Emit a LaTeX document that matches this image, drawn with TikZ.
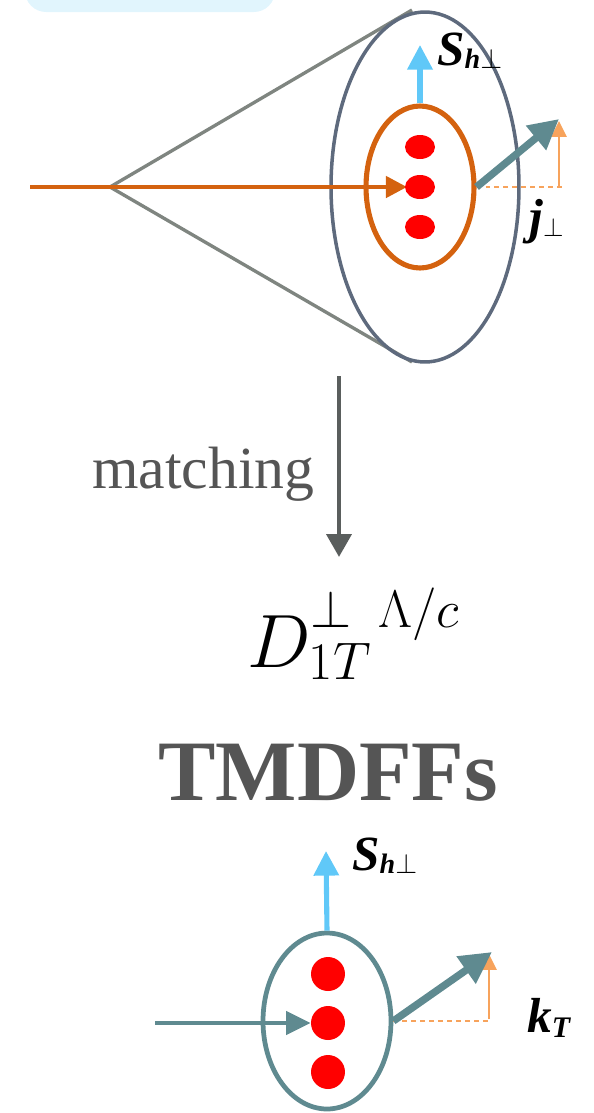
\RequirePackage{fix-cm}
\documentclass[tikz,border=0pt]{standalone}
\usepackage{fontspec}
\newfontfamily\lsf{Liberation Serif}
\usepackage{tikz}
\usetikzlibrary{arrows.meta,positioning,shapes.geometric}

\definecolor{boxBlue}{RGB}{225,245,253}
\definecolor{coneGray}{RGB}{127,133,128}
\definecolor{rimGray}{RGB}{94,106,125}
\definecolor{quarkOrange}{RGB}{212,98,15}
\definecolor{dotRed}{RGB}{255,0,0}
\definecolor{spinBlue}{RGB}{96,200,248}
\definecolor{jetTeal}{RGB}{95,138,144}
\definecolor{lightOrange}{RGB}{247,163,92}
\definecolor{textGray}{RGB}{85,85,85}
\definecolor{arrowGray}{RGB}{90,94,93}

% subscript at a fixed size, for the big labels
\newcommand{\vecsub}[3][16]{#2\raisebox{-2pt}{\fontsize{#1}{#1}\selectfont #3}}

\begin{document}
\begin{tikzpicture}[x=0.02cm, y=-0.02cm,
  rim/.style={draw=rimGray, line width=2pt, ellipse, inner sep=0,
    minimum width=3.76cm, minimum height=7cm},
  hadron/.style={draw=quarkOrange, line width=2.9pt, ellipse, inner sep=0,
    minimum width=2.16cm, minimum height=3.24cm},
  proton/.style={draw=jetTeal, line width=2.7pt, ellipse, inner sep=0,
    minimum width=2.56cm, minimum height=3.52cm},
  quark/.style={fill=dotRed, ellipse, inner sep=0,
    minimum width=0.6cm, minimum height=0.48cm},
  bigquark/.style={fill=dotRed, circle, inner sep=0, minimum size=0.68cm},
  coneline/.style={color=coneGray, line width=1.9pt},
  quarkline/.style={color=quarkOrange, line width=2.5pt,
    -{Triangle[length=12pt,width=12pt]}},
  beam/.style={color=jetTeal, line width=2.8pt,
    -{Triangle[length=14pt,width=13pt]}},
  spin/.style={color=spinBlue, line width=2.9pt,
    -{Triangle[length=14pt,width=14pt]}},
  jet/.style={color=jetTeal, line width=4.2pt,
    -{Triangle[length=17pt,width=17pt]}},
  bigjet/.style={color=jetTeal, line width=4.2pt,
    -{Triangle[length=18pt,width=18pt]}},
  kick/.style={color=lightOrange, line width=1.5pt,
    -{Triangle[length=9pt,width=8.5pt]}},
  projline/.style={color=lightOrange, line width=1.5pt,
    dash pattern=on 2.8pt off 2.3pt},
  match/.style={color=arrowGray, line width=2.6pt,
    -{Triangle[length=13pt,width=14pt]}},
  lbl/.style={inner sep=0, anchor=base west,
    font=\lsf\bfseries\itshape\fontsize{28}{30}\selectfont}]

  \useasboundingbox (0,0) rectangle (594,1113);
  \clip (0,0) rectangle (594,1113);

  \fill[boxBlue, rounded corners=12pt] (25,-40) rectangle (275,12);

  % jet cone
  \coordinate (src) at (30,187);
  \coordinate (apex) at (110,187);
  \coordinate (coneTop) at (412,10);
  \coordinate (coneBot) at (412,362);
  \draw[coneline] (coneTop) -- (apex) -- (coneBot);
  \node[rim] (cone) at (425,187) {};
  \draw[quarkline] (src) -- (407,187) coordinate (qin);
  \node[hadron] (had) at (420,187) {};
  \foreach \y/\n in {147/1,187/2,227/3}
    \node[quark] (q\n) at (420,\y) {};

  \coordinate (spinTip) at (420,45);
  \draw[spin] (had.north) -- (spinTip);
  \node[lbl] (slab) at (437,65) {\vecsub{S}{h$\perp$}};

  \coordinate (jetEnd) at (559,119);
  \coordinate (jFoot) at (563,187);
  \coordinate (jBase) at (559,186);
  \coordinate (jTop) at (559,121);
  \draw[projline] (had.east) -- (jFoot);
  \draw[kick] (jBase) -- (jTop);
  \draw[jet] (had.east) -- (jetEnd);
  \node[lbl] (jlab) at (529,233) {\vecsub[15]{j}{$\perp$}};

  % matching step
  \coordinate (mStart) at (339,376);
  \coordinate (mEnd) at (339,557);
  \draw[match] (mStart) -- (mEnd);
  \node[inner sep=0, anchor=base east, text=textGray,
    font=\lsf\fontsize{34}{40}\selectfont] (mtxt) at (315,488) {matching};

  \node[inner sep=0, anchor=base west] (dlab) at (247,667)
    {\fontsize{43}{50}\selectfont $D_{1T}^{\perp\mkern9mu\Lambda/c}$};
  \node[inner sep=0, anchor=base west, text=textGray,
    font=\lsf\bfseries\fontsize{49}{55}\selectfont] (title) at (158,800) {TMDFFs};

  % TMD fragmentation
  \node[proton] (pro) at (327,1021) {};
  \foreach \y/\n in {974/1,1023/2,1072/3}
    \node[bigquark] (p\n) at (328,\y) {};
  \coordinate (inSrc) at (155,1023);
  \draw[beam] (inSrc) -- (p2.west);

  \coordinate (spinTip2) at (326,851);
  \draw[spin] (pro.north) -- (spinTip2);
  \node[lbl] (slab2) at (352,870) {\vecsub{S}{h$\perp$}};

  \coordinate (kEnd) at (492,952);
  \coordinate (kFoot) at (490,1021);
  \coordinate (kBase) at (489,1019);
  \coordinate (kTop) at (489,954);
  \draw[projline] (pro.east) -- (kFoot);
  \draw[kick] (kBase) -- (kTop);
  \draw[bigjet] (pro.east) -- (kEnd);
  \node[lbl] (klab) at (527,1032) {\vecsub[17]{k}{\raisebox{-1pt}{T}}};
\end{tikzpicture}
\end{document}
